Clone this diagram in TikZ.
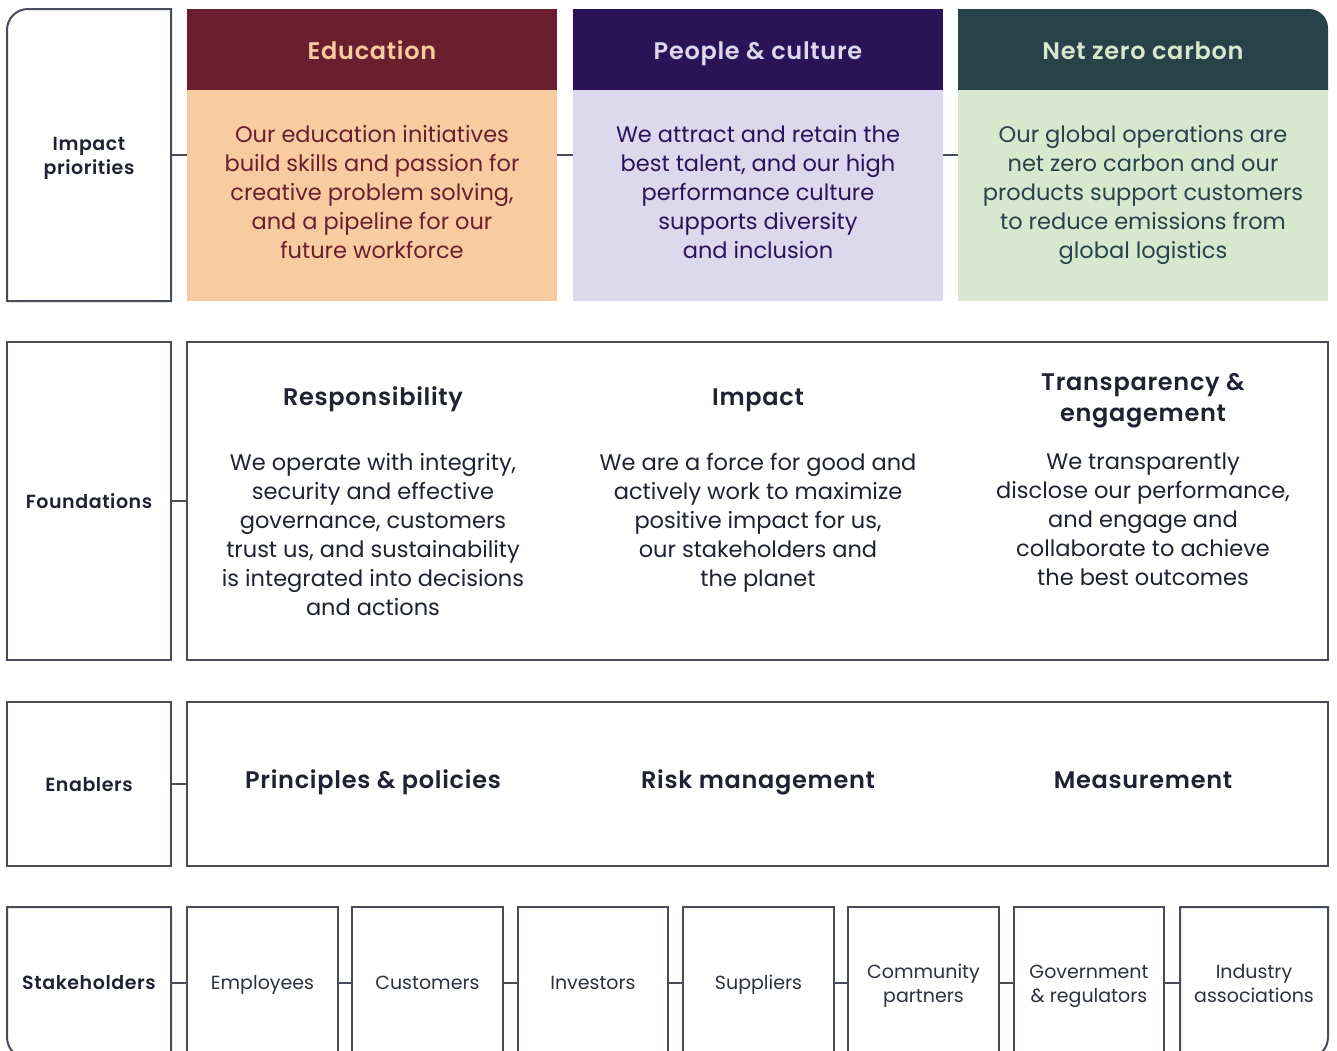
\documentclass[tikz,border=0pt]{standalone}
\usepackage{fontspec}
\setmainfont{Poppins}[BoldFont={Poppins SemiBold}, BoldFeatures={LetterSpace=3}]
\usetikzlibrary{calc}

\definecolor{ink}{HTML}{1E2232}
\definecolor{soft}{HTML}{2C3140}
\definecolor{rule}{HTML}{474B5A}
\definecolor{eduhead}{HTML}{6A1F2E}
\definecolor{edubody}{HTML}{F9CBA0}
\definecolor{pplhead}{HTML}{2B1358}
\definecolor{pplbody}{HTML}{DCD8EE}
\definecolor{nethead}{HTML}{284249}
\definecolor{netbody}{HTML}{D7E8CF}

\tikzset{
  frame/.style={draw=rule, line width=2pt, rectangle, inner sep=0pt, outer sep=0pt},
  ghost/.style={rectangle, inner sep=0pt, outer sep=0pt},
  link/.style={draw=rule, line width=2pt},
  outline/.style={draw=rule, line width=2pt},
  sidetext/.style={text=ink, align=center, font=\fontsize{19}{24}\selectfont\bfseries},
  headtext/.style={align=center, font=\fontsize{24}{31}\selectfont\bfseries},
  bodytext/.style={align=center, font=\fontsize{22.5}{29}\selectfont},
  enabletext/.style={text=ink, align=center, font=\fontsize{24}{30}\selectfont\bfseries},
  namtext/.style={text=soft, align=center, font=\fontsize{19}{24}\selectfont},
}

\begin{document}
\begin{tikzpicture}[x=1pt, y=-1pt]
\useasboundingbox[fill=white] (0,0) rectangle (1337,1050);

% ---- left column frames ----
\node[ghost, minimum width=164pt, minimum height=292pt] (impact) at (89,155) {};
\draw[outline] (impact.south west) -- (impact.west)
  {[rounded corners=21pt] -- (impact.north west) -- (impact.north)}
  -- (impact.north east) -- (impact.south east) -- cycle;
\node[frame, minimum width=164pt, minimum height=318pt] (found) at (89,501) {};
\node[frame, minimum width=164pt, minimum height=164pt] (enab) at (89,784) {};
\node[ghost, minimum width=164pt, minimum height=152pt] (stake) at (89,983) {};
\draw[outline] (stake.north east) -- (stake.north west) -- (stake.west)
  {[rounded corners=22pt] -- (stake.south west) -- (stake.south)}
  -- (stake.south east) -- cycle;

\node[sidetext] at (89,158) {Impact\\priorities};
\node[sidetext, anchor=base] at (89,508.5) {Foundations};
\node[sidetext, anchor=base] at (89,791.5) {Enablers};
\node[sidetext, anchor=base] at (89,989.5) {Stakeholders};

% ---- impact priorities ----
\node[ghost, minimum width=370pt, minimum height=292pt] (edu) at (372,155) {};
\node[ghost, minimum width=370pt, minimum height=292pt] (ppl) at (758,155) {};
\node[ghost, minimum width=370pt, minimum height=292pt] (net) at (1143,155) {};

\fill[eduhead] (edu.north west) rectangle ($(edu.north east)+(0,81)$);
\fill[edubody] ($(edu.north west)+(0,81)$) rectangle (edu.south east);
\fill[pplhead] (ppl.north west) rectangle ($(ppl.north east)+(0,81)$);
\fill[pplbody] ($(ppl.north west)+(0,81)$) rectangle (ppl.south east);
\fill[nethead] ($(net.north west)+(0,81)$) -- (net.north west) -- (net.north)
  {[rounded corners=19pt] -- (net.north east) -- ($(net.north east)+(0,40)$)}
  -- ($(net.north east)+(0,81)$) -- cycle;
\fill[netbody] ($(net.north west)+(0,81)$) rectangle (net.south east);

\node[headtext, text=edubody, anchor=base] at (372,59.5) {Education};
\node[headtext, text=pplbody, anchor=base] at (758,59.5) {People \& culture};
\node[headtext, text=netbody, anchor=base] at (1143,59.5) {Net zero carbon};

\node[bodytext, text=eduhead] at (372,192) {Our education initiatives\\build skills and passion for\\creative problem solving,\\and a pipeline for our\\future workforce};
\node[bodytext, text=pplhead] at (758,192) {We attract and retain the\\best talent, and our high\\performance culture\\supports diversity\\and inclusion};
\node[bodytext, text=nethead] at (1143,194.5) {Our global operations are\\net zero carbon and our\\products support customers\\to reduce emissions from\\global logistics};

% ---- foundations ----
\node[frame, minimum width=1141pt, minimum height=318pt] (foundbox) at (757.5,501) {};
\node[headtext, text=ink, anchor=base] at (373,405.5) {Responsibility};
\node[headtext, text=ink, anchor=base] at (758,405.5) {Impact};
\node[headtext, text=ink] at (1143,400.5) {Transparency \&\\engagement};
\node[bodytext, text=ink, anchor=north, inner sep=0pt] at (373,453) {We operate with integrity,\\security and effective\\governance, customers\\trust us, and sustainability\\is integrated into decisions\\and actions};
\node[bodytext, text=ink, anchor=north, inner sep=0pt] at (758,453) {We are a force for good and\\actively work to maximize\\positive impact for us,\\our stakeholders and\\the planet};
\node[bodytext, text=ink, anchor=north, inner sep=0pt] at (1143,453) {We transparently\\disclose our performance,\\and engage and\\collaborate to achieve\\the best outcomes};

% ---- enablers ----
\node[frame, minimum width=1141pt, minimum height=164pt] (enabbox) at (757.5,784) {};
\node[enabletext, anchor=base] at (373,788.5) {Principles \& policies};
\node[enabletext, anchor=base] at (758,788.5) {Risk management};
\node[enabletext, anchor=base] at (1143,788.5) {Measurement};

% ---- stakeholders ----
\node[frame, minimum width=151pt, minimum height=152pt] (s1) at (262.5,983) {};
\node[frame, minimum width=151pt, minimum height=152pt] (s2) at (427.5,983) {};
\node[frame, minimum width=150pt, minimum height=152pt] (s3) at (593,983) {};
\node[frame, minimum width=151pt, minimum height=152pt] (s4) at (758.5,983) {};
\node[frame, minimum width=151pt, minimum height=152pt] (s5) at (923.5,983) {};
\node[frame, minimum width=150pt, minimum height=152pt] (s6) at (1089,983) {};
\node[ghost, minimum width=148pt, minimum height=152pt] (s7) at (1254,983) {};
\draw[outline] (s7.south west) -- (s7.north west) -- (s7.north east) -- (s7.east)
  {[rounded corners=22pt] -- (s7.south east) -- (s7.south)} -- cycle;

\node[namtext, anchor=base] at (262.5,989.5) {Employees};
\node[namtext, anchor=base] at (427.5,989.5) {Customers};
\node[namtext, anchor=base] at (593,989.5) {Investors};
\node[namtext, anchor=base] at (758.5,989.5) {Suppliers};
\node[namtext] at (923.5,986) {Community\\partners};
\node[namtext] at (1089,986) {Government\\\& regulators};
\node[namtext] at (1254,984) {Industry\\associations};

% ---- connectors ----
\draw[link] (impact.east) -- (edu.west);
\draw[link] (edu.east) -- (ppl.west);
\draw[link] (ppl.east) -- (net.west);
\draw[link] (found.east) -- (foundbox.west);
\draw[link] (enab.east) -- (enabbox.west);
\draw[link] (stake.east) -- (s1.west);
\draw[link] (s1.east) -- (s2.west);
\draw[link] (s2.east) -- (s3.west);
\draw[link] (s3.east) -- (s4.west);
\draw[link] (s4.east) -- (s5.west);
\draw[link] (s5.east) -- (s6.west);
\draw[link] (s6.east) -- (s7.west);
\end{tikzpicture}
\end{document}
